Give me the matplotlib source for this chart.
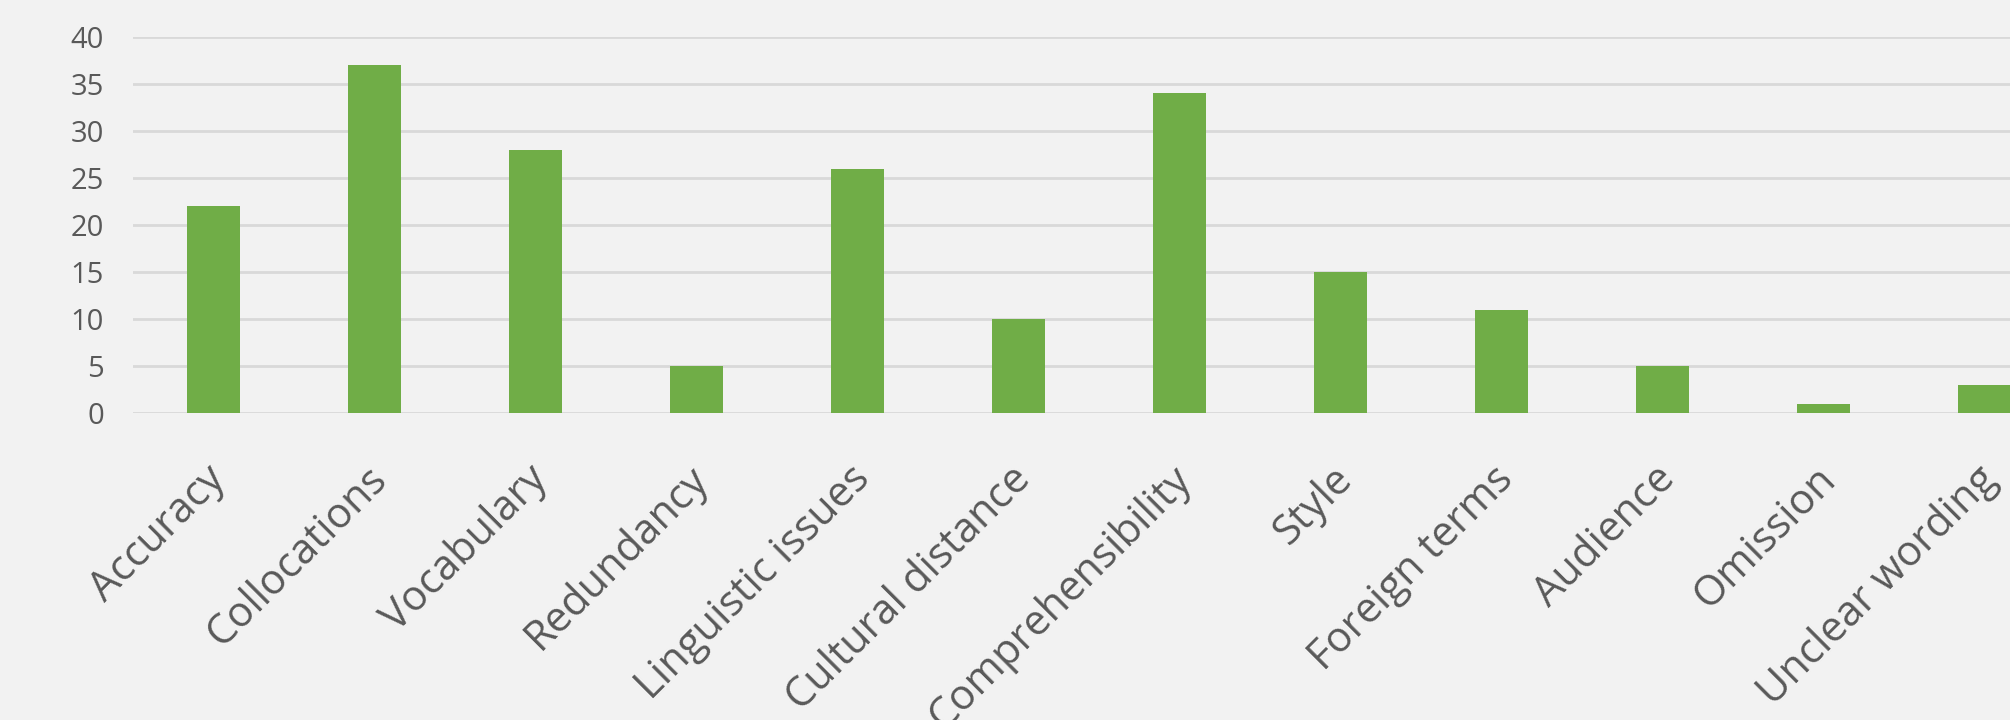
import matplotlib.pyplot as plt
import matplotlib.transforms as mtransforms
import numpy as np

categories = ["Accuracy", "Collocations", "Vocabulary", "Redundancy", "Linguistic issues",
              "Cultural distance", "Comprehensibility", "Style", "Foreign terms",
              "Audience", "Omission", "Unclear wording"]
counts = [22, 37, 28, 5, 26, 10, 34, 15, 11, 5, 1, 3]
yticks = [0, 5, 10, 15, 20, 25, 30, 35, 40]

bg = "#F2F2F2"
green = "#70AD47"
grid = "#D9D9D9"
txt = "#595959"

plt.rcParams["font.family"] = ["Open Sans", "DejaVu Sans"]

fig = plt.figure(figsize=(20.1, 7.2), dpi=100, facecolor=bg)
# plot area runs past the right edge, as in the reference
ax = fig.add_axes([133 / 2010, 307 / 720, 1932 / 2010, 376 / 720], facecolor=bg)

x = np.arange(len(categories))
ax.bar(x, counts, width=1 / 3, color=green, zorder=2)

ax.set_xlim(-0.5, len(categories) - 0.5)
ax.set_ylim(0, 40)
ax.set_yticks(yticks)
ax.yaxis.grid(True, color=grid, linewidth=2, zorder=1)
ax.set_axisbelow(True)

for s in ax.spines.values():
    s.set_visible(False)

ax.tick_params(axis="y", length=0, pad=21, labelsize=21, labelcolor=txt)
ax.tick_params(axis="x", length=0, pad=0, labelsize=30, labelcolor=txt)
ax.set_xticks(x)
ax.set_xticklabels(categories, rotation=45, ha="right", va="center", rotation_mode="anchor")
offset = mtransforms.ScaledTranslation(0.06, -0.6, fig.dpi_scale_trans)
for lbl in ax.get_xticklabels():
    lbl.set_transform(lbl.get_transform() + offset)

fig.savefig("out.png", dpi=100, facecolor=bg)
